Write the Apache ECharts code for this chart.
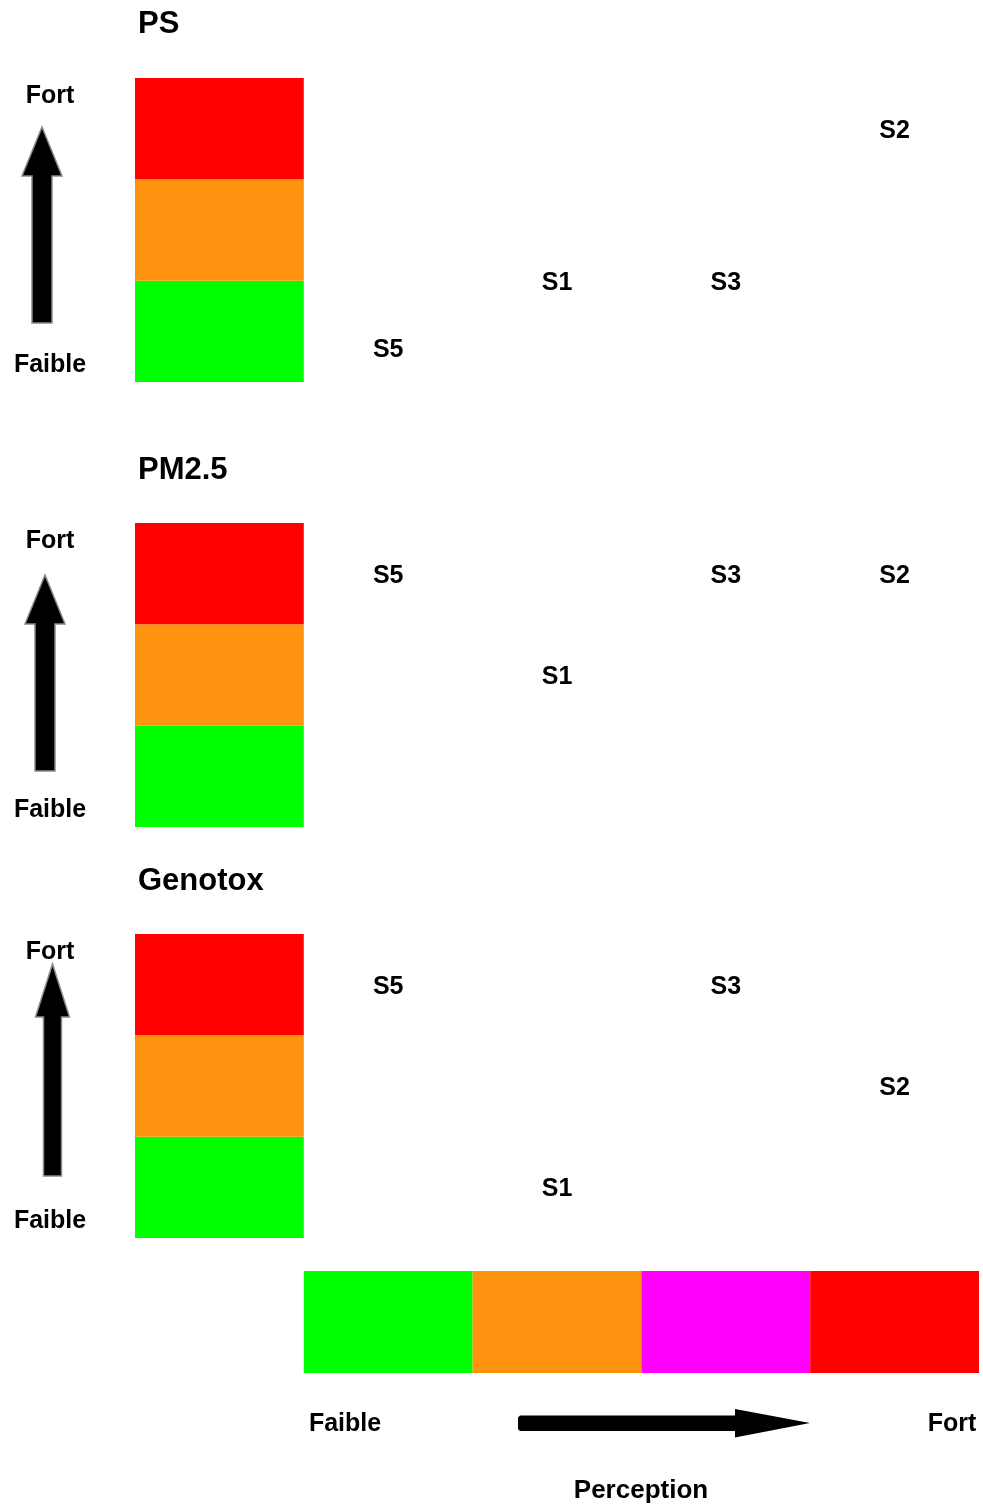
<!DOCTYPE html>
<html>
<head>
<meta charset="utf-8">
<script src="https://cdn.jsdelivr.net/npm/echarts@6/dist/echarts.min.js"></script>
<style>
html,body{margin:0;padding:0;background:#fff;}
#chart{width:983px;height:1507px;}
</style>
</head>
<body>
<div id="chart"></div>
<script>
// ---- data ----
var columns = ['scale', 'Faible', 'Moyen', 'Eleve', 'Fort'];      // x categories (0 = vertical scale bar)
var panelTitles = ['PS', 'PM2.5', 'Genotox'];
var sites = ['S1', 'S2', 'S3', 'S5'];
var sitePerception = [2, 4, 3, 1];                                   // column index of each site
var intensityPS = [1.0, 2.5, 1.0, 0.33];
var intensityPM25 = [1.5, 2.5, 2.5, 2.5];
var intensityGenotox = [0.5, 1.5, 2.5, 2.5];
var intensityBands = [[0, 1, '#00FF00'], [1, 2, '#FF9411'], [2, 3, '#FF0000']];
var perceptionBands = [[1, '#00FF00'], [2, '#FF9411'], [3, '#FF00FF'], [4, '#FF0000']];

var FONT = 'Liberation Sans, Arial, sans-serif';
var chart = echarts.init(document.getElementById('chart'), null, {renderer: 'canvas'});

var panelTops = [78, 523, 934];
var grids = [], xAxes = [], yAxes = [], series = [];
var intensities = [intensityPS, intensityPM25, intensityGenotox];

function hiddenCat(gi) {
  return {type: 'category', gridIndex: gi, data: columns, boundaryGap: true, show: false};
}

panelTops.forEach(function (top, i) {
  grids.push({left: 135, right: 4, top: top, height: 304});
  xAxes.push(hiddenCat(i));
  yAxes.push({type: 'value', gridIndex: i, min: 0, max: 3, show: false, splitLine: {show: false}});
  series.push({
    type: 'custom', xAxisIndex: i, yAxisIndex: i, silent: true,
    data: intensityBands.map(function (b) { return [0, b[0], b[1], b[2]]; }),
    renderItem: function (params, api) {
      var p0 = api.coord([api.value(0), api.value(1)]);
      var p1 = api.coord([api.value(0), api.value(2)]);
      var w = api.size([1, 0])[0];
      var d = intensityBands[params.dataIndex];
      return {type: 'rect', shape: {x: p0[0] - w / 2, y: p1[1], width: w, height: p0[1] - p1[1]},
              style: {fill: d[2]}};
    }
  });
  series.push({
    type: 'scatter', xAxisIndex: i, yAxisIndex: i, silent: true,
    symbolSize: 0, itemStyle: {color: '#000', opacity: 1},
    data: sites.map(function (s, k) { return {name: s, value: [sitePerception[k], intensities[i][k]]}; }),
    label: {show: true, position: 'inside', formatter: '{b}', color: '#000', opacity: 1,
            textBorderWidth: 0, offset: [0, 2],
            fontFamily: FONT, fontWeight: 'bold', fontSize: 25}
  });
});

// bottom perception bar
grids.push({left: 135, right: 4, top: 1271, height: 102});
xAxes.push(hiddenCat(3));
yAxes.push({type: 'value', gridIndex: 3, min: 0, max: 1, show: false, splitLine: {show: false}});
series.push({
  type: 'custom', xAxisIndex: 3, yAxisIndex: 3, silent: true,
  data: perceptionBands.map(function (b) { return [b[0], 0, 1]; }),
  renderItem: function (params, api) {
    var p0 = api.coord([api.value(0), api.value(1)]);
    var p1 = api.coord([api.value(0), api.value(2)]);
    var w = api.size([1, 0])[0];
    return {type: 'rect', shape: {x: p0[0] - w / 2, y: p1[1], width: w, height: p0[1] - p1[1]},
            style: {fill: perceptionBands[params.dataIndex][1]}};
  }
});

function txt(x, y, s, size, align) {
  return {type: 'text', x: x, y: y, style: {text: s, fill: '#000', font: 'bold ' + size + 'px ' + FONT,
          textAlign: align || 'center', textVerticalAlign: 'middle'}};
}
function vArrow(cx, top, headBase, bottom, shaftW, headW) {
  var s = shaftW / 2, h = headW / 2;
  return {type: 'polygon', shape: {points: [[cx, top], [cx + h, headBase], [cx + s, headBase], [cx + s, bottom],
          [cx - s, bottom], [cx - s, headBase], [cx - h, headBase]]},
          style: {fill: '#000', stroke: '#8a8a8a', lineWidth: 1.5}};
}

var graphics = [];
var titleYs = [24, 470, 881], fortYs = [96, 541, 952], faibleYs = [365, 810, 1221];
panelTitles.forEach(function (t, i) {
  graphics.push(txt(138, titleYs[i], t, 31, 'left'));
  graphics.push(txt(50, fortYs[i], 'Fort', 25));
  graphics.push(txt(50, faibleYs[i], 'Faible', 25));
});
graphics.push(vArrow(42, 127, 176, 323, 20, 40));
graphics.push(vArrow(45, 575, 624, 771, 20, 40));
graphics.push(vArrow(52.5, 964, 1017, 1176, 18, 34));
graphics.push(txt(345, 1424, 'Faible', 25));
graphics.push(txt(952, 1424, 'Fort', 25));
graphics.push(txt(641, 1491, 'Perception', 26));
graphics.push({type: 'polygon', shape: {points: [[520, 1415.5], [735, 1415.5], [735, 1409], [810, 1423],
               [735, 1437.5], [735, 1431], [520, 1431], [518, 1429], [518, 1417.5]]},
               style: {fill: '#000'}});

chart.setOption({
  backgroundColor: '#fff',
  animation: false,
  grid: grids, xAxis: xAxes, yAxis: yAxes, series: series,
  graphic: graphics
});
</script>
</body>
</html>
